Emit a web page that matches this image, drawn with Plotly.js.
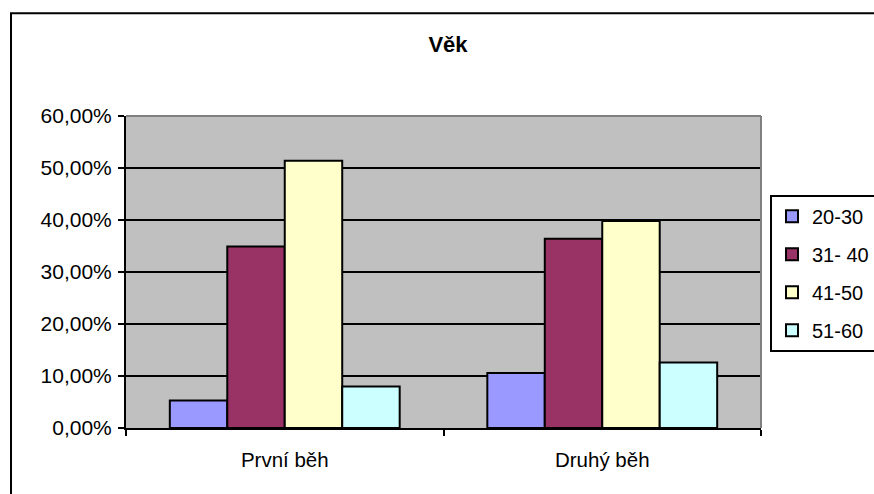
<!DOCTYPE html>
<html>
<head>
<meta charset="utf-8">
<script src="https://cdn.plot.ly/plotly-3.0.1.min.js"></script>
<style>
  html, body { margin: 0; padding: 0; background: #ffffff; }
  #chart { width: 874px; height: 494px; }
</style>
</head>
<body>
<div id="chart"></div>
<script>
// ---- data ----
var chartTitle = 'Věk';
var categories = ['První běh', 'Druhý běh'];
var seriesNames = ['20-30', '31- 40', '41-50', '51-60'];
var s2030 = [0.053, 0.106];
var s3140 = [0.349, 0.364];
var s4150 = [0.514, 0.398];
var s5160 = [0.080, 0.126];
var yTickValues = [0, 0.1, 0.2, 0.3, 0.4, 0.5, 0.6];

// ---- styles ----
var seriesValues = [s2030, s3140, s4150, s5160];
var seriesColors = ['#9999FF', '#993366', '#FFFFCC', '#CCFFFF'];
var FONT = 'Liberation Sans, Arial, sans-serif';

var W = 874, H = 494;
var L = 126, R = 761, T = 116, B = 428.5;
var pw = R - L, ph = B - T;
function px2x(p) { return (p - L) / pw; }
function px2y(p) { return (B - p) / ph; }

var traces = seriesNames.map(function (name, i) {
  return {
    type: 'bar',
    name: name,
    x: categories,
    y: seriesValues[i],
    legendgroup: 'g' + i,
    marker: { color: seriesColors[i], line: { color: '#000000', width: 2 } },
    hoverinfo: 'none'
  };
});

var layout = {
  width: W,
  height: H,
  margin: { l: L, r: W - R, t: T, b: H - B, autoexpand: false },
  paper_bgcolor: '#ffffff',
  plot_bgcolor: '#C0C0C0',
  separators: ',.',
  font: { family: FONT, size: 20, color: '#000000' },
  barmode: 'group',
  bargap: 0.276,
  bargroupgap: 0,
  title: {
    text: chartTitle,
    font: { family: FONT, size: 22, weight: 'bold', color: '#000000' },
    xref: 'container', yref: 'container',
    x: 448 / W, xanchor: 'center',
    y: 1 - 44 / H, yanchor: 'middle'
  },
  xaxis: {
    type: 'category',
    tickson: 'boundaries',
    ticks: 'outside',
    ticklen: 6,
    tickwidth: 2,
    tickcolor: '#000000',
    showline: true,
    linecolor: '#000000',
    linewidth: 2,
    showgrid: false,
    ticklabelstandoff: 12,
    tickfont: { family: FONT, size: 20.5, color: '#000000' },
    fixedrange: true
  },
  yaxis: {
    range: [0, 0.6],
    tickvals: yTickValues,
    tickformat: '.2%',
    ticks: 'outside',
    ticklen: 6,
    tickwidth: 2,
    tickcolor: '#000000',
    showline: true,
    linecolor: '#000000',
    linewidth: 2,
    showgrid: true,
    gridcolor: '#000000',
    gridwidth: 2,
    zeroline: false,
    ticklabelstandoff: 2,
    tickfont: { family: FONT, size: 21, color: '#000000' },
    fixedrange: true
  },
  legend: {
    xref: 'paper', yref: 'paper',
    x: px2x(770), xanchor: 'left',
    y: px2y(195), yanchor: 'top',
    bgcolor: '#ffffff',
    bordercolor: '#000000',
    borderwidth: 2,
    traceorder: 'grouped',
    tracegroupgap: 9,
    itemwidth: 30,
    font: { family: FONT, size: 20, color: '#000000' }
  },
  shapes: [
    // plot area top and right border (gray)
    { type: 'line', xref: 'paper', yref: 'paper', x0: 0, x1: 1, y0: 1, y1: 1,
      line: { color: '#808080', width: 2 }, layer: 'above' },
    { type: 'line', xref: 'paper', yref: 'paper', x0: 1, x1: 1, y0: 0, y1: 1,
      line: { color: '#808080', width: 2 }, layer: 'above' },
    // outer chart border
    { type: 'rect', xref: 'paper', yref: 'paper',
      x0: px2x(11), x1: px2x(W + 20), y0: px2y(H + 20), y1: px2y(13),
      line: { color: '#000000', width: 2 }, fillcolor: 'rgba(0,0,0,0)', layer: 'above' }
  ],
  showlegend: true
};

Plotly.newPlot('chart', traces, layout, { staticPlot: true, displayModeBar: false });
</script>
</body>
</html>
